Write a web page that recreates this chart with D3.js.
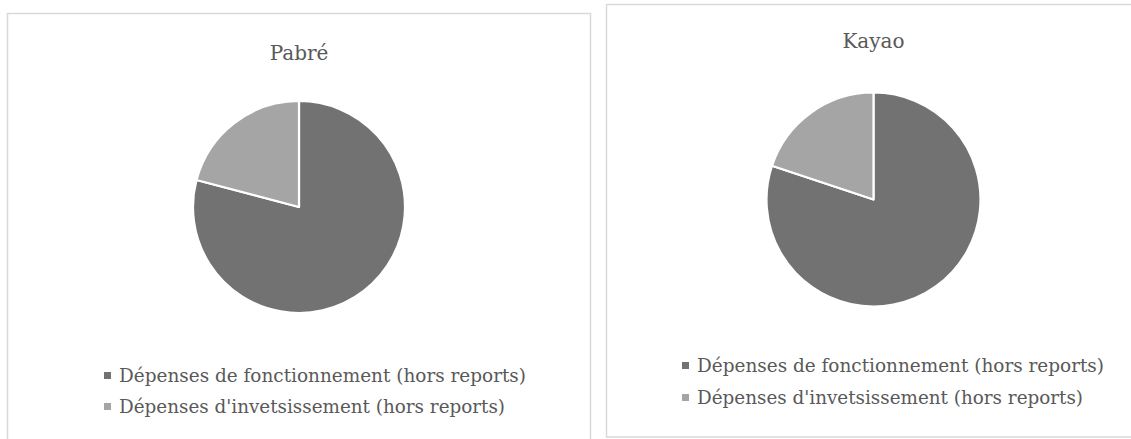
<!DOCTYPE html>
<html>
<head>
<meta charset="utf-8">
<script src="https://cdn.jsdelivr.net/npm/d3@7"></script>
<style>
html,body{margin:0;padding:0;background:#fff;}
svg{display:block;}
text{font-family:"DejaVu Serif","Liberation Serif",serif;fill:#595959;}
</style>
</head>
<body>
<svg id="chart" width="1131" height="439"></svg>
<script>
const titles = ["Pabré", "Kayao"];
const categories = ["Dépenses de fonctionnement (hors reports)", "Dépenses d'invetsissement (hors reports)"];
const pabreValues = [79.1, 20.9];
const kayaoValues = [80.1, 19.9];
const colors = ["#727272", "#a5a5a5"];
const legendWidths = [407, 386];

const panels = [
  {title: titles[0], values: pabreValues, box: {x: 7.5, y: 13.5, w: 583, h: 440},
   cx: 299, cy: 207, r: 106, titleY: 60, legX: 119, legY: [382, 413]},
  {title: titles[1], values: kayaoValues, box: {x: 606.5, y: 4.5, w: 530, h: 432.5},
   cx: 873.5, cy: 199.5, r: 107, titleY: 48, legX: 697, legY: [372, 404]}
];

const svg = d3.select("#chart");
const color = d3.scaleOrdinal().domain(categories).range(colors);
const pie = d3.pie().sort(null).value(d => d.value);

panels.forEach(p => {
  const g = svg.append("g");
  g.append("rect").attr("x", p.box.x).attr("y", p.box.y)
    .attr("width", p.box.w).attr("height", p.box.h)
    .attr("fill", "#fff").attr("stroke", "#d9d9d9").attr("stroke-width", 1.5);

  g.append("text").attr("x", p.cx).attr("y", p.titleY)
    .attr("text-anchor", "middle").attr("font-size", 20).text(p.title);

  const data = categories.map((c, i) => ({cat: c, value: p.values[i]}));
  const arc = d3.arc().innerRadius(0).outerRadius(p.r);
  g.append("g").attr("transform", `translate(${p.cx},${p.cy})`)
    .selectAll("path").data(pie(data)).join("path")
    .attr("d", arc).attr("fill", d => color(d.data.cat))
    .attr("stroke", "#fff").attr("stroke-width", 2.2).attr("stroke-linejoin", "round");

  const leg = g.append("g");
  categories.forEach((c, i) => {
    leg.append("rect").attr("x", p.legX - 15).attr("y", p.legY[i] - 10)
      .attr("width", 7).attr("height", 7).attr("fill", color(c));
    leg.append("text").attr("x", p.legX).attr("y", p.legY[i])
      .attr("font-size", 18)
      .attr("textLength", legendWidths[i]).attr("lengthAdjust", "spacingAndGlyphs")
      .text(c);
  });
});
</script>
</body>
</html>
